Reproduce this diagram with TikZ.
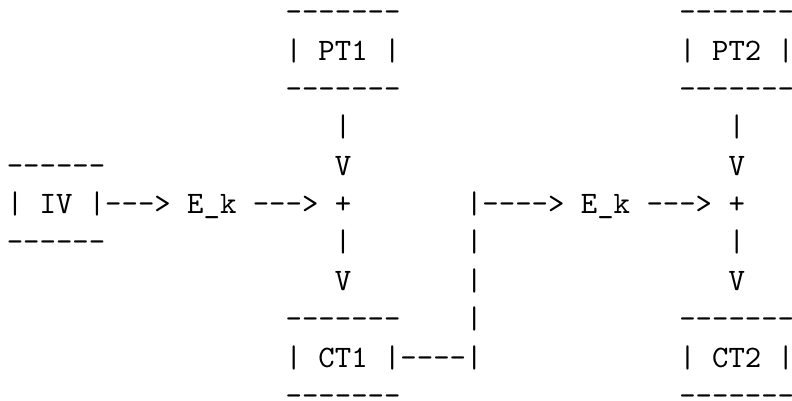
\documentclass[tikz,border=0pt]{standalone}
\usepackage{fontspec}
\begin{document}
\begin{tikzpicture}[x=5.25pt,y=-12.29pt,
  tok/.style={inner sep=0pt, outer sep=0pt, anchor=base west, font=\ttfamily\fontsize{10pt}{12pt}\selectfont}]
\useasboundingbox (0,0) rectangle (48.286,10.419);
\begin{scope}[shift={(0.415,0.5627)}]
% PT1 box
\node[tok] (pt1a) at (17,0) {-------};
\node[tok] (pt1l) at (17,1) {|};
\node[tok] (pt1) at (19,1) {PT1};
\node[tok] (pt1r) at (23,1) {|};
\node[tok] (pt1b) at (17,2) {-------};
% PT2 box
\node[tok] (pt2a) at (41,0) {-------};
\node[tok] (pt2l) at (41,1) {|};
\node[tok] (pt2) at (43,1) {PT2};
\node[tok] (pt2r) at (47,1) {|};
\node[tok] (pt2b) at (41,2) {-------};
% arrows down from PT
\node[tok] (v1a) at (20,3) {|};
\node[tok] (v2a) at (44,3) {|};
\node[tok] (v1b) at (20,4) {V};
\node[tok] (v2b) at (44,4) {V};
% IV box
\node[tok] (iva) at (0,4) {------};
\node[tok] (ivl) at (0,5) {|};
\node[tok] (iv) at (2,5) {IV};
\node[tok] (ivr) at (5,5) {|--->};
\node[tok] (ek1) at (11,5) {E\_k};
\node[tok] (ar1) at (15,5) {--->};
\node[tok] (plus1) at (20,5) {+};
\node[tok] (ivb) at (0,6) {------};
% second stage
\node[tok] (j1) at (28,5) {|---->};
\node[tok] (ek2) at (35,5) {E\_k};
\node[tok] (ar2) at (39,5) {--->};
\node[tok] (plus2) at (44,5) {+};
% arrows down to CT
\node[tok] (v1c) at (20,6) {|};
\node[tok] (v2c) at (44,6) {|};
\node[tok] (v1d) at (20,7) {V};
\node[tok] (v2d) at (44,7) {V};
% feedback line
\node[tok] (f1) at (28,6) {|};
\node[tok] (f2) at (28,7) {|};
\node[tok] (f3) at (28,8) {|};
% CT1 box
\node[tok] (ct1a) at (17,8) {-------};
\node[tok] (ct1l) at (17,9) {|};
\node[tok] (ct1) at (19,9) {CT1};
\node[tok] (ct1r) at (23,9) {|----|};
\node[tok] (ct1b) at (17,10) {-------};
% CT2 box
\node[tok] (ct2a) at (41,8) {-------};
\node[tok] (ct2l) at (41,9) {|};
\node[tok] (ct2) at (43,9) {CT2};
\node[tok] (ct2r) at (47,9) {|};
\node[tok] (ct2b) at (41,10) {-------};
\end{scope}
\end{tikzpicture}
\end{document}
